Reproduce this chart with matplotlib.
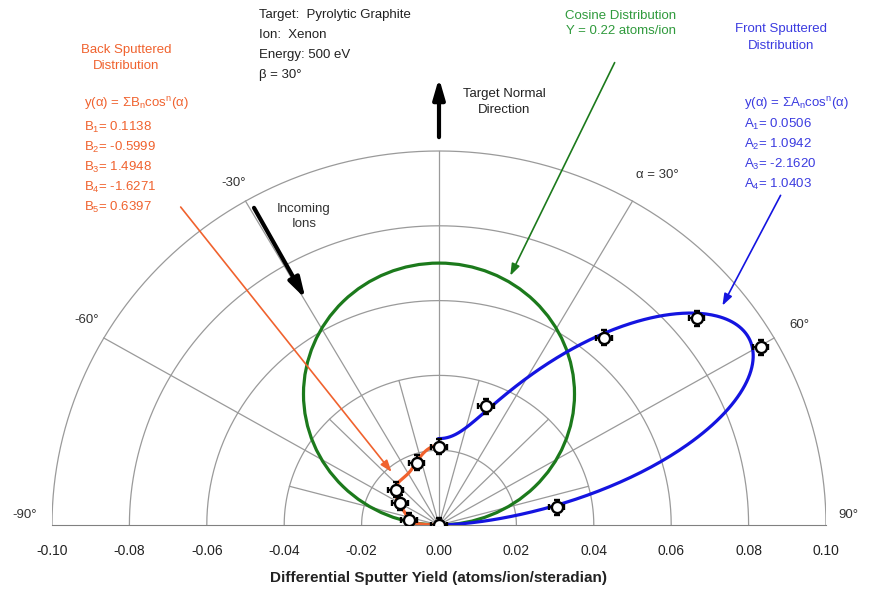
import numpy as np
import matplotlib.pyplot as plt
from matplotlib.patches import Circle

plt.rcParams['font.family'] = ['Liberation Sans', 'DejaVu Sans']
plt.rcParams['mathtext.fontset'] = 'custom'
plt.rcParams['mathtext.rm'] = 'Liberation Sans'
plt.rcParams['mathtext.it'] = 'Liberation Sans:italic'

# measured points (atoms/ion/steradian), x = y*sin(alpha), y = y*cos(alpha)
back_x = [0.0, -0.0058, -0.0112, -0.0101, -0.0078, 0.0]
back_y = [0.0209, 0.0166, 0.0094, 0.0059, 0.0013, 0.0]
front_x = [0.0121, 0.0426, 0.0666, 0.0831, 0.0304]
front_y = [0.0318, 0.0501, 0.0553, 0.0475, 0.0047]
pt_err = 0.002

# fit coefficients as printed on the chart
A = [0.0506, 1.0942, -2.1620, 1.0403]
B = [0.1138, -0.5999, 1.4948, -1.6271, 0.6397]
Y_total = 0.22  # atoms/ion

xticks = [-0.10, -0.08, -0.06, -0.04, -0.02, 0.00, 0.02, 0.04, 0.06, 0.08, 0.10]
rings = [0.02, 0.04, 0.06, 0.08, 0.10]
spokes_major = [-60, -30, 0, 30, 60]
spokes_minor = [-75, -45, -15, 15, 45, 75]

ORANGE = '#f0622e'
GREEN = '#1c7a1c'
GREEN_TXT = '#2f9a3c'
BLUE = '#1414e0'
BLUE_TXT = '#3b3be0'
GRID = '#9a9a9a'


def fit_curve(coefs, sign):
    a = np.radians(np.linspace(0, 90, 400))
    r = sum(c * np.cos(a) ** (n + 1) for n, c in enumerate(coefs))
    return sign * r * np.sin(a), r * np.cos(a)


fig = plt.figure(figsize=(8.73, 5.92), dpi=100)
ax = fig.add_axes([52 / 873, 67 / 592, 774 / 873, 525 / 592])
ax.set_xlim(-0.10, 0.10)
ax.set_ylim(0, 525 / 3740)

# polar grid
th = np.radians(np.linspace(-90, 90, 361))
for r in rings:
    ax.plot(r * np.sin(th), r * np.cos(th), color=GRID, lw=0.9, zorder=1)
for d in spokes_major:
    ax.plot([0, 0.10 * np.sin(np.radians(d))], [0, 0.10 * np.cos(np.radians(d))],
            color=GRID, lw=0.9, zorder=1)
for d in spokes_minor:
    ax.plot([0, 0.04 * np.sin(np.radians(d))], [0, 0.04 * np.cos(np.radians(d))],
            color=GRID, lw=0.9, zorder=1)

# cosine distribution
rc = Y_total / np.pi / 2
ax.add_patch(Circle((0, rc), rc, fill=False, ec=GREEN, lw=2.3, zorder=3))

# fitted distributions
fx, fy = fit_curve(A, 1)
bx, by = fit_curve(B, -1)
ax.plot(fx, fy, color=BLUE, lw=2.3, zorder=4)
ax.plot(bx, by, color=ORANGE, lw=2.3, zorder=4)

# data points
ax.errorbar(back_x + front_x, back_y + front_y, xerr=pt_err, yerr=pt_err,
            fmt='o', ms=8, mfc='white', mec='black', mew=1.7,
            ecolor='black', elinewidth=1.6, capsize=2, capthick=1.6, zorder=6)

# axes styling
for s in ['left', 'right', 'top']:
    ax.spines[s].set_visible(False)
ax.spines['bottom'].set_color('#808080')
ax.set_yticks([])
ax.set_xticks(xticks)
ax.set_xticklabels(['%.2f' % t for t in xticks])
ax.tick_params(axis='x', length=0, pad=14, labelsize=10, labelcolor='#222222')
ax.set_xlabel('Differential Sputter Yield (atoms/ion/steradian)',
              fontsize=11, fontweight='bold', labelpad=9, color='#222222')

fs = 9.5
# angle labels
for x, y, s in [(-0.053, 0.0914, '-30°'), (-0.091, 0.0548, '-60°'),
                (-0.1072, 0.0027, '-90°'), (0.0563, 0.0936, 'α = 30°'),
                (0.0930, 0.0535, '60°'), (0.1059, 0.0027, '90°')]:
    ax.text(x, y, s, ha='center', va='center', fontsize=fs, color='#333333',
            clip_on=False)

# experiment info
info = ['Target:  Pyrolytic Graphite', 'Ion:  Xenon', 'Energy: 500 eV', 'β = 30°']
for i, s in enumerate(info):
    ax.text(-0.0465, 0.1364 - i * 0.00535, s, ha='left', va='center',
            fontsize=fs, color='#222222')

# back sputtered annotation
ax.text(-0.0809, 0.1249, 'Back Sputtered\nDistribution', ha='center', va='center',
        fontsize=fs, color=ORANGE, linespacing=1.5)
back_lines = ['y(α) = ΣB$_\\mathrm{n}$cos$^\\mathrm{n}$(α)'] + \
    ['B$_%d$= %.4f' % (n + 1, c) for n, c in enumerate(B)]
for i, s in enumerate(back_lines):
    ax.text(-0.0917, 0.1128 - (0.0064 if i else 0) - max(i - 1, 0) * 0.00535, s,
            ha='left', va='center', fontsize=fs, color=ORANGE)

# front sputtered annotation
ax.text(0.0884, 0.1303, 'Front Sputtered\nDistribution', ha='center', va='center',
        fontsize=fs, color=BLUE_TXT, linespacing=1.5)
front_lines = ['y(α) = ΣA$_\\mathrm{n}$cos$^\\mathrm{n}$(α)'] + \
    ['A$_%d$= %.4f' % (n + 1, c) for n, c in enumerate(A)]
for i, s in enumerate(front_lines):
    ax.text(0.0788, 0.1128 - (0.0058 if i else 0) - max(i - 1, 0) * 0.00535, s,
            ha='left', va='center', fontsize=fs, color=BLUE_TXT)

# cosine annotation
ax.text(0.0470, 0.1340, 'Cosine Distribution\nY = 0.22 atoms/ion', ha='center',
        va='center', fontsize=fs, color=GREEN_TXT, linespacing=1.3)

ax.text(0.0168, 0.1131, 'Target Normal\nDirection', ha='center', va='center',
        fontsize=fs, color='#222222', linespacing=1.5)
ax.text(-0.0349, 0.0825, 'Incoming\nIons', ha='center', va='center',
        fontsize=fs, color='#333333', linespacing=1.4)

# arrows
thin = dict(arrowstyle='-|>,head_width=0.25,head_length=0.7', lw=1.2)
ax.annotate('', xy=(0.0181, 0.066), xytext=(0.0457, 0.1243),
            arrowprops=dict(thin, color=GREEN), zorder=7)
ax.annotate('', xy=(0.0729, 0.058), xytext=(0.0886, 0.0888),
            arrowprops=dict(thin, color=BLUE), zorder=7)
ax.annotate('', xy=(-0.0118, 0.0136), xytext=(-0.0672, 0.0856),
            arrowprops=dict(thin, color=ORANGE), zorder=7)
thick = dict(arrowstyle='-|>,head_width=0.35,head_length=1.2', lw=3,
             color='black', shrinkA=0, shrinkB=0)
ax.annotate('', xy=(0.0, 0.1195), xytext=(0.0, 0.1037), arrowprops=thick, zorder=7)
ax.annotate('', xy=(-0.0345, 0.0605), xytext=(-0.0478, 0.0848),
            arrowprops=thick, zorder=7)

fig.savefig('out.png', dpi=100)
